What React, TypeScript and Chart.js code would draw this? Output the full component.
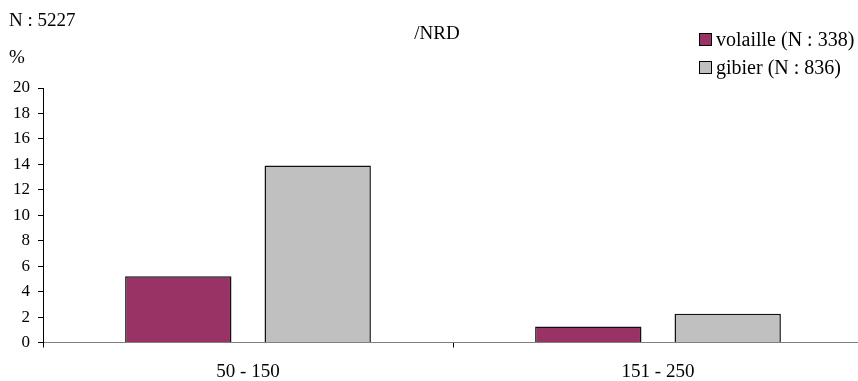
import React, { useEffect, useRef } from "react";
import { Chart, registerables } from "chart.js";

Chart.register(...registerables);

const categories = ["50 - 150", "151 - 250"];
const volaille = [5.2, 1.25];
const gibier = [13.9, 2.25];
const seriesNames = ["volaille (N : 338)", "gibier (N : 836)"];
const seriesColors = ["#993366", "#C0C0C0"];
const yTicks = [0, 2, 4, 6, 8, 10, 12, 14, 16, 18, 20];
const topLeftLabel = "N : 5227";
const unitLabel = "%";
const titleText = "/NRD";

const FONT = "'Liberation Serif', 'Times New Roman', serif";
const FS = 19;

export default function App() {
  const ref = useRef<HTMLCanvasElement | null>(null);
  useEffect(() => {
    document.body.style.margin = "0";
    const textPlugin = {
      id: "texts",
      afterLayout(chart: any) {
        const x = chart.scales.x;
        const newRight = 863;
        x.right = newRight;
        x.width = newRight - x.left;
        chart.chartArea.right = newRight;
        chart.chartArea.width = newRight - chart.chartArea.left;
        x.configure();
      },
      afterDraw(chart: any) {
        const ctx = chart.ctx;
        ctx.save();
        ctx.fillStyle = "#000";
        ctx.font = `${FS}px ${FONT}`;
        ctx.textBaseline = "middle";
        ctx.textAlign = "left";
        ctx.fillText(topLeftLabel, 9, 21);
        ctx.fillText(unitLabel, 9, 58);
        ctx.textAlign = "center";
        ctx.fillText(titleText, 437, 34);
        ctx.textAlign = "left";
        ctx.font = `20px ${FONT}`;
        const ys = [39.5, 67.5];
        seriesNames.forEach((n, i) => {
          ctx.fillStyle = seriesColors[i];
          ctx.fillRect(699, ys[i] - 6.5, 13, 13);
          ctx.strokeStyle = "#000";
          ctx.lineWidth = 1;
          ctx.strokeRect(699.5, ys[i] - 6, 12, 12);
          ctx.fillStyle = "#000";
          ctx.fillText(n, 716, ys[i] + 1);
        });
        ctx.restore();
      },
    };
    const chart = new Chart(ref.current as HTMLCanvasElement, {
      type: "bar",
      data: {
        labels: categories,
        datasets: [
          {
            label: seriesNames[0],
            data: volaille,
            backgroundColor: seriesColors[0],
            borderColor: "#111",
            borderWidth: 1.5,
            categoryPercentage: 0.68,
            barPercentage: 0.763,
          },
          {
            label: seriesNames[1],
            data: gibier,
            backgroundColor: seriesColors[1],
            borderColor: "#111",
            borderWidth: 1.5,
            categoryPercentage: 0.68,
            barPercentage: 0.763,
          },
        ],
      },
      options: {
        animation: false,
        responsive: false,
        maintainAspectRatio: false,
        layout: { padding: { top: 88, right: 0, left: 0, bottom: 0 } },
        plugins: { legend: { display: false }, title: { display: false }, tooltip: { enabled: false } },
        scales: {
          x: {
            grid: { drawOnChartArea: false, tickLength: 5, color: "#000", offset: true },
            border: { color: "#808080", width: 1 },
            ticks: { color: "#000", font: { family: FONT, size: FS }, padding: 13, maxRotation: 0 },
            afterFit(scale: any) {
              scale.height = 38.5;
            },
          },
          y: {
            min: 0,
            max: 20,
            afterBuildTicks(scale: any) {
              scale.ticks = yTicks.map((v) => ({ value: v }));
            },
            grid: { drawOnChartArea: false, tickLength: 5, color: "#000" },
            border: { color: "#000", width: 1 },
            ticks: { color: "#000", font: { family: FONT, size: 17 }, padding: 8, autoSkip: false },
            afterFit(scale: any) {
              scale.width = 43;
            },
          },
        },
      },
      plugins: [textPlugin],
    });
    return () => chart.destroy();
  }, []);
  return (
    <div style={{ width: 858, height: 381 }}>
      <canvas ref={ref} width={858} height={381} style={{ display: "block" }} />
    </div>
  );
}
